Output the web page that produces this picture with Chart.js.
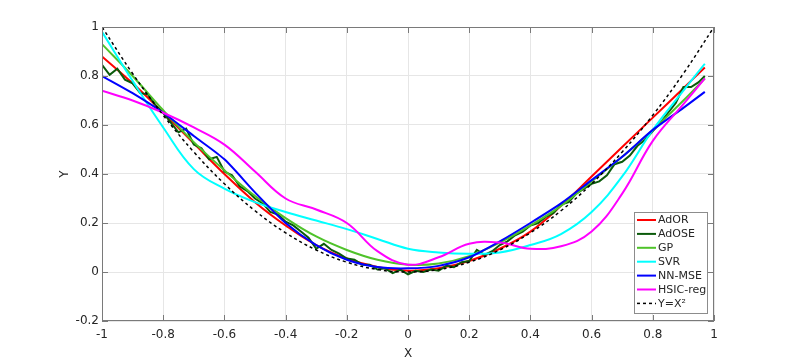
<!DOCTYPE html>
<html>
<head>
<meta charset="utf-8">
<script src="https://cdn.jsdelivr.net/npm/chart.js@4"></script>
<style>
  html, body { margin: 0; padding: 0; background: #fff; }
  #wrap { width: 789px; height: 361px; }
</style>
</head>
<body>
<div id="wrap"><canvas id="chart"></canvas></div>
<script>
// x positions shared by the smooth fits
const xFit = [-1, -0.9, -0.8, -0.7, -0.6, -0.5, -0.4, -0.3, -0.2, -0.1, 0, 0.1, 0.2, 0.3, 0.4, 0.5, 0.6, 0.7, 0.8, 0.9, 0.97];

const adOR  = [0.88, 0.77, 0.65, 0.525, 0.40, 0.285, 0.19, 0.11, 0.055, 0.02, 0.005, 0.015, 0.045, 0.095, 0.165, 0.27, 0.39, 0.51, 0.63, 0.75, 0.835];
const gp    = [0.93, 0.80, 0.66, 0.53, 0.415, 0.31, 0.22, 0.145, 0.09, 0.05, 0.03, 0.035, 0.065, 0.12, 0.19, 0.27, 0.37, 0.47, 0.58, 0.70, 0.79];
const svr   = [0.98, 0.78, 0.59, 0.42, 0.34, 0.285, 0.245, 0.21, 0.175, 0.135, 0.095, 0.08, 0.075, 0.08, 0.11, 0.155, 0.245, 0.39, 0.58, 0.74, 0.85];
const nnMse = [0.80, 0.73, 0.65, 0.555, 0.46, 0.325, 0.20, 0.11, 0.05, 0.02, 0.015, 0.025, 0.06, 0.125, 0.20, 0.28, 0.375, 0.47, 0.58, 0.67, 0.735];
const hsic  = [0.74, 0.70, 0.65, 0.59, 0.52, 0.41, 0.30, 0.255, 0.20, 0.085, 0.03, 0.06, 0.115, 0.12, 0.095, 0.105, 0.165, 0.32, 0.535, 0.685, 0.79];

// AdOSE is a noisy trace on a finer grid
const xOse = [-1, -0.975, -0.95, -0.925, -0.9, -0.875, -0.85, -0.825, -0.8, -0.775, -0.75, -0.725, -0.7, -0.675, -0.65, -0.625, -0.6, -0.575, -0.55, -0.525,
  -0.5, -0.475, -0.45, -0.425, -0.4, -0.375, -0.35, -0.325, -0.3, -0.275, -0.25, -0.225, -0.2, -0.175, -0.15, -0.125, -0.1, -0.075, -0.05, -0.025,
  0, 0.025, 0.05, 0.075, 0.1, 0.125, 0.15, 0.175, 0.2, 0.225, 0.25, 0.275, 0.3, 0.325, 0.35, 0.375, 0.4, 0.425, 0.45, 0.475,
  0.5, 0.525, 0.55, 0.575, 0.6, 0.625, 0.65, 0.675, 0.7, 0.725, 0.75, 0.775, 0.8, 0.825, 0.85, 0.875, 0.9, 0.925, 0.95, 0.97];
const adOSE = [0.845, 0.805, 0.83, 0.785, 0.77, 0.73, 0.725, 0.68, 0.65, 0.61, 0.57, 0.585, 0.52, 0.505, 0.46, 0.47, 0.41, 0.395, 0.35, 0.33,
  0.30, 0.28, 0.245, 0.235, 0.205, 0.19, 0.165, 0.14, 0.095, 0.115, 0.09, 0.075, 0.055, 0.05, 0.03, 0.03, 0.01, 0.015, -0.005, 0.01,
  -0.01, 0.005, 0.0, 0.01, 0.005, 0.025, 0.02, 0.04, 0.045, 0.09, 0.07, 0.085, 0.11, 0.125, 0.15, 0.165, 0.19, 0.20, 0.225, 0.24,
  0.275, 0.285, 0.32, 0.34, 0.36, 0.37, 0.395, 0.44, 0.45, 0.475, 0.515, 0.54, 0.575, 0.61, 0.65, 0.69, 0.755, 0.755, 0.775, 0.80];

// reference curve Y = X^2
const xRef = [-1, -0.9, -0.8, -0.7, -0.6, -0.5, -0.4, -0.3, -0.2, -0.1, 0, 0.1, 0.2, 0.3, 0.4, 0.5, 0.6, 0.7, 0.8, 0.9, 1];
const yRef = [1, 0.81, 0.64, 0.49, 0.36, 0.25, 0.16, 0.09, 0.04, 0.01, 0, 0.01, 0.04, 0.09, 0.16, 0.25, 0.36, 0.49, 0.64, 0.81, 1];

const xTicks = [-1, -0.8, -0.6, -0.4, -0.2, 0, 0.2, 0.4, 0.6, 0.8, 1];
const yTicks = [-0.2, 0, 0.2, 0.4, 0.6, 0.8, 1];

const pts = (xs, ys) => xs.map((x, i) => ({ x: x, y: ys[i] }));

const TXT = "#262626";
const AXIS = "#7a7a7a";
const FONT = "DejaVu Sans";

const series = (label, xs, ys, color, order, extra = {}) => Object.assign({
  label: label,
  data: pts(xs, ys),
  borderColor: color,
  backgroundColor: color,
  borderWidth: 2,
  pointRadius: 0,
  tension: 0.4,
  order: order,
}, extra);

const datasets = [
  series("AdOR", xFit, adOR, "#ff0000", 7),
  series("AdOSE", xOse, adOSE, "#0a5a0a", 6, { tension: 0 }),
  series("GP", xFit, gp, "#4fc32a", 5),
  series("SVR", xFit, svr, "#00ffff", 4),
  series("NN-MSE", xFit, nnMse, "#0000ff", 3, { tension: 0.25 }),
  series("HSIC-reg", xFit, hsic, "#ff00ff", 2),
  series("Y=X²", xRef, yRef, "#000000", 1, { borderWidth: 1.5, borderDash: [3, 3] }),
];

// box + inward tick marks, like a matlab axes
const frame = {
  id: "frame",
  afterDatasetsDraw(chart) {
    const { ctx, chartArea: a, scales } = chart;
    ctx.save();
    ctx.strokeStyle = AXIS;
    ctx.lineWidth = 1;
    ctx.strokeRect(a.left + 0.5, a.top + 0.5, a.right - a.left - 1, a.bottom - a.top - 1);
    ctx.beginPath();
    xTicks.forEach((t) => {
      const px = Math.round(scales.x.getPixelForValue(t)) + 0.5;
      ctx.moveTo(px, a.bottom); ctx.lineTo(px, a.bottom - 6);
      ctx.moveTo(px, a.top); ctx.lineTo(px, a.top + 6);
    });
    yTicks.forEach((t) => {
      const py = Math.round(scales.y.getPixelForValue(t)) + 0.5;
      ctx.moveTo(a.left, py); ctx.lineTo(a.left + 6, py);
      ctx.moveTo(a.right, py); ctx.lineTo(a.right - 6, py);
    });
    ctx.stroke();
    ctx.restore();
  },
};

const boxLegend = {
  id: "boxLegend",
  afterDraw(chart) {
    const ctx = chart.ctx;
    const left = 634, top = 212, w = 73, h = 101, row = 13.9;
    ctx.save();
    ctx.fillStyle = "#fff";
    ctx.fillRect(left, top, w, h);
    ctx.strokeStyle = "#8c8c8c";
    ctx.lineWidth = 1;
    ctx.strokeRect(left + 0.5, top + 0.5, w, h);
    ctx.font = "11px '" + FONT + "'";
    ctx.textBaseline = "middle";
    ctx.fillStyle = TXT;
    chart.data.datasets.forEach((ds, i) => {
      const y = top + 8 + i * row;
      ctx.beginPath();
      ctx.strokeStyle = ds.borderColor;
      ctx.lineWidth = ds.borderWidth;
      ctx.setLineDash(ds.borderDash || []);
      ctx.moveTo(637, y);
      ctx.lineTo(656, y);
      ctx.stroke();
      ctx.setLineDash([]);
      ctx.fillText(ds.label, 658, y + 0.5);
    });
    ctx.restore();
  },
};

new Chart(document.getElementById("chart").getContext("2d"), {
  type: "line",
  data: { datasets: datasets },
  options: {
    responsive: true,
    maintainAspectRatio: false,
    animation: false,
    layout: { padding: { left: 58, right: 75, top: 27, bottom: 0 } },
    plugins: { legend: { display: false }, tooltip: { enabled: false } },
    scales: {
      x: {
        type: "linear",
        min: -1,
        max: 1,
        afterFit: (s) => { s.height = 40; },
        afterBuildTicks: (s) => { s.ticks = xTicks.map((v) => ({ value: v })); },
        ticks: {
          padding: 7,
          color: TXT,
          font: { family: FONT, size: 12 },
          maxRotation: 0,
          callback: (v) => String(Number(v.toFixed(1))),
        },
        grid: { color: "#e6e6e6", drawTicks: false },
        border: { display: false },
        title: { display: true, text: "X", color: TXT, font: { family: FONT, size: 12 }, padding: { top: 5, bottom: 0 } },
      },
      y: {
        min: -0.2,
        max: 1,
        afterFit: (s) => { s.width = 44; },
        afterBuildTicks: (s) => { s.ticks = yTicks.map((v) => ({ value: v })); },
        ticks: {
          padding: 3,
          color: TXT,
          font: { family: FONT, size: 12 },
          callback: (v) => String(Number(v.toFixed(1))),
        },
        grid: { color: "#e6e6e6", drawTicks: false },
        border: { display: false },
        title: { display: true, text: "Y", color: TXT, font: { family: FONT, size: 12 }, padding: { top: 0, bottom: 0 } },
      },
    },
  },
  plugins: [frame, boxLegend],
});
</script>
</body>
</html>
